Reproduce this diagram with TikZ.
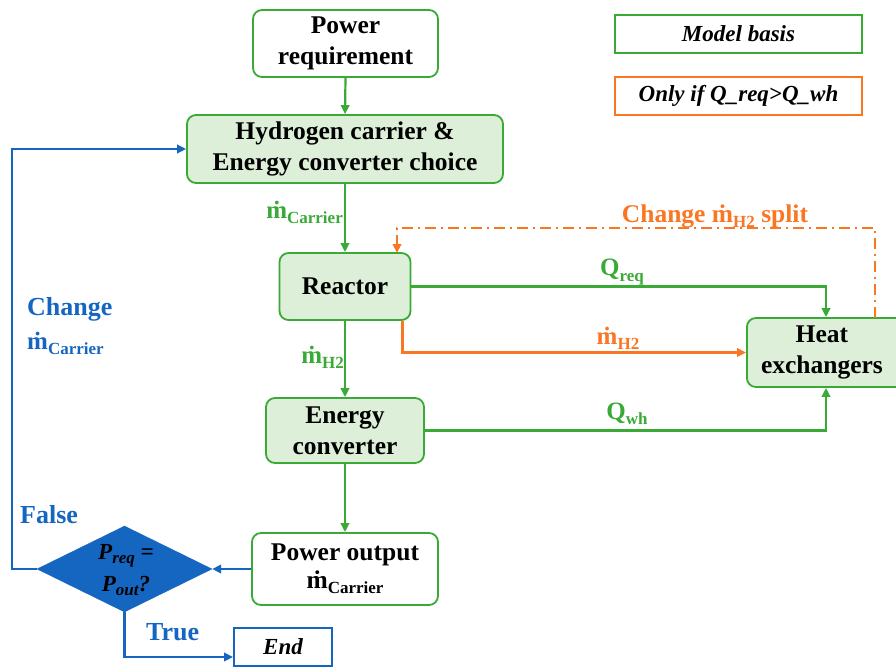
\documentclass[tikz,border=0pt]{standalone}
\usepackage{fontspec}
\setmainfont{Liberation Serif}
\usetikzlibrary{arrows.meta,shapes.geometric,calc}
\definecolor{cgreen}{RGB}{57,170,53}
\definecolor{cfill}{RGB}{221,239,216}
\definecolor{cblue}{RGB}{21,102,192}
\definecolor{corange}{RGB}{250,118,35}
\newcommand\lsub[1]{\raisebox{-0.45ex}{\fontsize{17}{17}\selectfont #1}}
\newcommand\mdot{\.{m}}
\begin{document}
\begin{tikzpicture}[x=1pt,y=-1pt,
  box/.style={draw=cgreen,line width=1.8pt,rounded corners=9pt,fill=cfill,align=center,
    inner sep=0pt,font=\fontsize{25.5}{31}\selectfont\bfseries},
  wbox/.style={box,fill=white},
  legbox/.style={draw=#1,line width=2pt,fill=white,inner sep=0pt,
    font=\fontsize{23}{25}\selectfont\bfseries\itshape},
  tip/.style={-{Triangle[length=9pt,width=8.5pt]}},
  garr/.style={draw=cgreen,line width=2.2pt,tip},
  barr/.style={draw=cblue,line width=2.2pt,tip},
  oarr/.style={draw=corange,line width=2.2pt,tip},
  glab/.style={text=cgreen,font=\fontsize{25}{27}\selectfont\bfseries,inner sep=0pt},
  olab/.style={glab,text=corange},
  blab/.style={glab,text=cblue,font=\fontsize{26}{28}\selectfont\bfseries},
]
\clip (0,0) rectangle (896,666);
\useasboundingbox (0,0) rectangle (896,666);

% nodes
\node[wbox,minimum width=185pt,minimum height=67pt] (preq) at (345.5,43.5) {Power\\requirement};
\node[box,minimum width=316pt,minimum height=68pt] (hcc) at (345,149) {Hydrogen carrier \&\\Energy converter choice};
\node[box,minimum width=131pt,minimum height=67pt] (reac) at (345,286.5) {Reactor};
\node[box,minimum width=158pt,minimum height=65pt] (econv) at (345,430.5) {Energy\\converter};
\node[wbox,minimum width=186pt,minimum height=72pt] (pout) at (345,569) {Power output\\[-3pt]\mdot\lsub{Carrier}};
\node[box,minimum width=162pt,minimum height=69pt,anchor=west] (hex) at (746,352.5) {\hspace*{-12pt}Heat\\\hspace*{-12pt}exchangers};
\node[diamond,fill=cblue,draw=cblue,minimum width=175pt,minimum height=86pt,inner sep=0pt] (dia) at (124.5,569) {};
\node[align=center,inner sep=0pt,font=\fontsize{23}{32}\selectfont\bfseries\itshape] (diat) at (126,570)
  {P\lsub{req} =\\P\lsub{out}?};
\node[legbox=cblue,minimum width=98pt,minimum height=38pt] (endb) at (283,646.5) {End};
\node[legbox=cgreen,minimum width=247pt,minimum height=38pt] (leg1) at (738.5,34) {Model basis};
\node[legbox=corange,minimum width=247pt,minimum height=38pt] (leg2) at (738.5,96) {Only if Q\_req>Q\_wh};

% helper coordinates
\coordinate (orstart) at ($(reac.south east)+(-9,0)$);
\coordinate (dtop) at (875,318);
\coordinate (dtopc) at (875,228);
\coordinate (dleft) at (397,228);
\coordinate (dend) at (397,253);
\coordinate (bl) at (12,569);
\coordinate (tl) at (124.5,657);

% green flow
\draw[garr] (preq.south) -- (hcc.north);
\draw[garr] (hcc.south) -- (reac.north);
\draw[garr] (reac.south) -- (econv.north);
\draw[garr] (econv.south) -- (pout.north);
\draw[garr] (reac.east) -| (hex.north -| 826,0);
\draw[garr] (econv.east) -| (hex.south -| 826,0);
% orange
\draw[oarr] (orstart) |- (hex.west);
\draw[draw=corange,line width=2.2pt,dash pattern=on 11pt off 5pt on 2pt off 5pt,
  -{Triangle[length=9pt,width=8.5pt]}] (dtop) -- (dtopc) -- (dleft) -- (dend);
% blue
\draw[barr] (pout.west) -- (dia.east);
\draw[barr] (dia.west) -- (bl) |- (hcc.west);
\draw[barr] (dia.south) -- (tl) -- (tl -| endb.west);

% labels
\node[glab,anchor=east] (lc) at (343,212) {\mdot\lsub{Carrier}};
\node[glab,anchor=east] (lh) at (344,357) {\mdot\lsub{H2}};
\node[glab] (lq) at (622,272) {Q\lsub{req}};
\node[olab] (lm) at (618,338) {\mdot\lsub{H2}};
\node[glab] (lw) at (627,414) {Q\lsub{wh}};
\node[olab,font=\fontsize{25.5}{27}\selectfont\bfseries] (ls) at (715,216) {Change \mdot\lsub{H2} split};
\node[blab,anchor=west] (lch) at (27,309) {Change};
\node[blab,anchor=west,font=\fontsize{25}{27}\selectfont\bfseries] (lcm) at (27,343) {\mdot\lsub{Carrier}};
\node[blab,anchor=west] (lf) at (20,515) {False};
\node[blab,anchor=west] (lt) at (146,632) {True};
\end{tikzpicture}
\end{document}
